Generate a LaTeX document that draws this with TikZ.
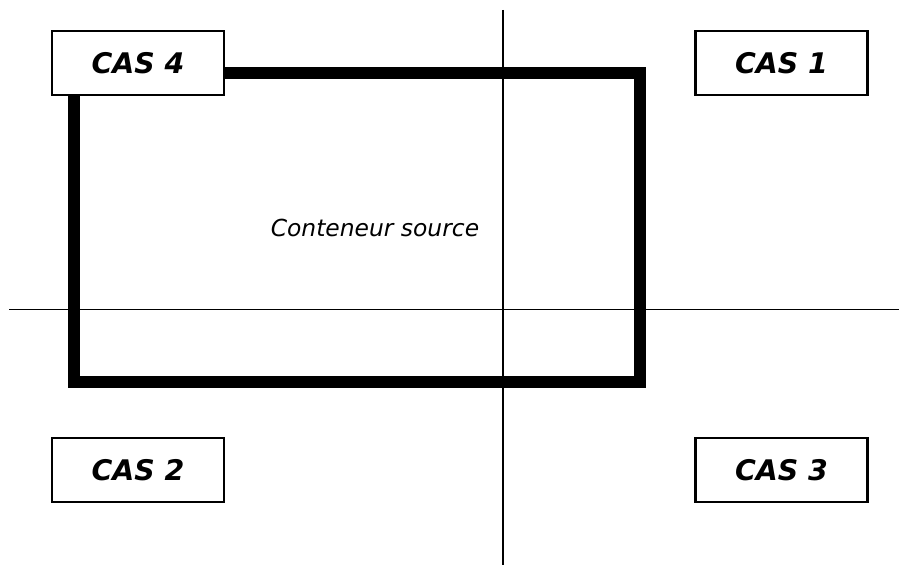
\documentclass[tikz,border=0pt]{standalone}
\usepackage{fontspec}
\setmainfont{DejaVu Sans}
\begin{document}
\begin{tikzpicture}[x=1bp,y=-1bp,
  axis/.style={line width=1.8bp,black},
  container/.style={line width=12bp,black,line join=miter},
  casbox/.style={draw,line width=2.2bp,fill=white,minimum width=172bp,minimum height=64bp,inner sep=0pt,
    font=\fontsize{28.5}{31}\selectfont\bfseries\itshape},
  lbl/.style={font=\fontsize{23.5}{26}\selectfont\itshape,inner sep=0pt}]
\useasboundingbox (0,0) rectangle (899,565);
\coordinate (vtop) at (503,10);
\coordinate (vbot) at (503,565);
\coordinate (hleft) at (9,309.5);
\coordinate (hright) at (899,309.5);
\draw[axis] (vtop) -- (vbot);
\draw[axis] (hleft) -- (hright);
\coordinate (c1) at (74,73);
\coordinate (c2) at (640,381.5);
\draw[container] (c1) rectangle (c2);
\node[lbl] (src) at (375,228) {Conteneur source};
\node[casbox] (cas4) at (138,63) {CAS 4};
\node[casbox] (cas1) at (781.5,63) {CAS 1};
\node[casbox] (cas2) at (138,470) {CAS 2};
\node[casbox] (cas3) at (781.5,470) {CAS 3};
\end{tikzpicture}
\end{document}
